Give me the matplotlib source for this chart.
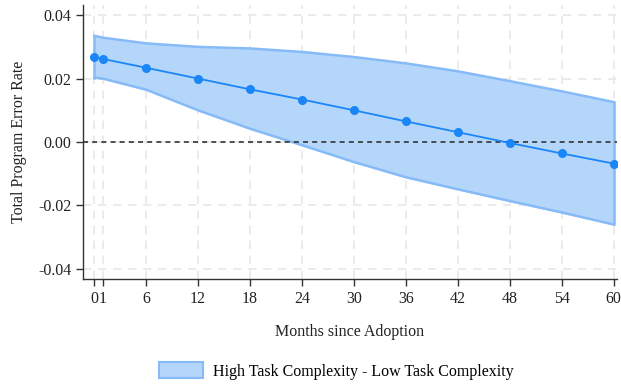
import numpy as np
import matplotlib.pyplot as plt
from matplotlib.patches import Patch

plt.rcParams['font.family'] = ['Liberation Serif', 'DejaVu Serif']
plt.rcParams['axes.unicode_minus'] = False

# contrast estimates (high - low task complexity) with 95% CI
months = [0, 1, 6, 12, 18, 24, 30, 36, 42, 48, 54, 60]
margin = [0.0268, 0.0262, 0.0234, 0.0200, 0.0166, 0.0134, 0.0100, 0.0065, 0.0031, -0.0003, -0.0036, -0.0068]
ci_upper = [0.0335, 0.0329, 0.0311, 0.0300, 0.0295, 0.0284, 0.0268, 0.0248, 0.0223, 0.0192, 0.0160, 0.0126]
ci_lower = [0.0203, 0.0200, 0.0165, 0.0100, 0.0042, -0.0010, -0.0063, -0.0111, -0.0149, -0.0186, -0.0222, -0.0260]
yticks = [-0.04, -0.02, 0.00, 0.02, 0.04]

line_col = '#1a86f7'
fill_col = '#b5d6fb'
edge_col = '#86bbf7'
fs = 11.5

fig = plt.figure(figsize=(6.21, 3.85), dpi=100)
ax = fig.add_axes([0.1337, 0.2745, 0.8599, 0.7125])

ax.fill_between(months, ci_lower, ci_upper, color=fill_col, zorder=2)
ax.plot(months, ci_upper, color=edge_col, lw=1.8, zorder=3)
ax.plot(months, ci_lower, color=edge_col, lw=1.8, zorder=3)
ax.plot([months[0], months[0]], [ci_lower[0], ci_upper[0]], color=edge_col, lw=1.8, zorder=3)
ax.plot([months[-1], months[-1]], [ci_lower[-1], ci_upper[-1]], color=edge_col, lw=1.8, zorder=3)
ax.plot(months, margin, color=line_col, lw=1.3, marker='o', ms=5.5, zorder=4)
ax.axhline(0, color='#333333', ls=(0, (3, 2.5)), lw=1.2, zorder=3)

ax.set_xlim(-1.3, 60.4)
ax.set_ylim(-0.0433, 0.0432)
ax.set_xticks(months)
ax.set_yticks(yticks)
ax.set_yticklabels(['%.2f' % v for v in yticks])
ax.grid(True, color='#e8e8e8', ls=(0, (5, 4)), lw=1.2, zorder=0)
ax.set_axisbelow(True)

for s in ['top', 'right']:
    ax.spines[s].set_visible(False)
for s in ['left', 'bottom']:
    ax.spines[s].set_color('#333333')
    ax.spines[s].set_linewidth(1.0)
ax.tick_params(direction='out', length=5, width=1, color='#333333', labelsize=fs, labelcolor='#222222')

ax.set_xlabel('Months since Adoption', fontsize=fs, labelpad=12, color='#222222')
ax.set_ylabel('Total Program Error Rate', fontsize=fs, labelpad=8, color='#222222')

handle = Patch(facecolor=fill_col, edgecolor=edge_col, lw=1.5)
fig.legend([handle], ['High Task Complexity - Low Task Complexity'], loc='center',
           bbox_to_anchor=(336 / 621, 1 - 371 / 385), frameon=False, fontsize=fs,
           handlelength=2.8, handleheight=1.1, handletextpad=0.6)

fig.savefig('out.png', dpi=100)
